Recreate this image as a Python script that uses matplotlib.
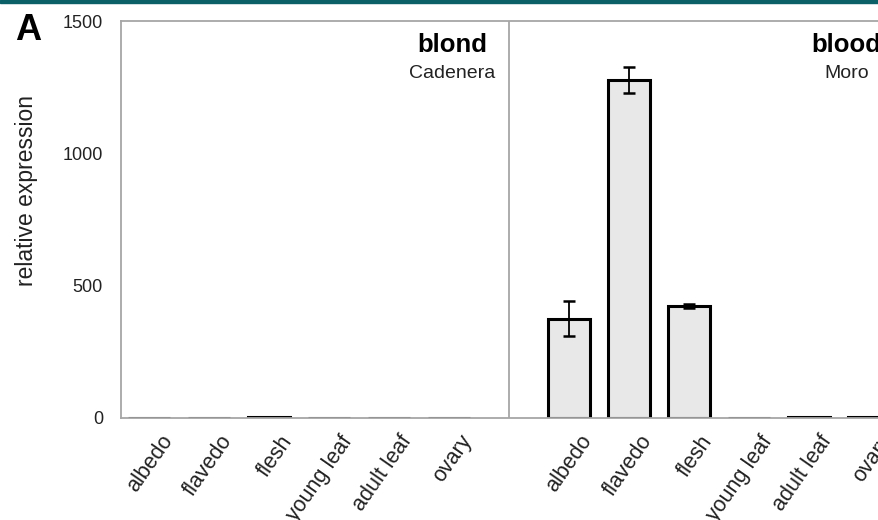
import matplotlib.pyplot as plt
import numpy as np
from matplotlib.patches import Rectangle
from matplotlib.transforms import ScaledTranslation

plt.rcParams['font.family'] = ['Liberation Sans', 'DejaVu Sans']

tissues = ["albedo", "flavedo", "flesh", "young leaf", "adult leaf", "ovary"]
blond_values = [0.5, 0.5, 2.0, 0.5, 1.5, 0.5]
blond_errors = [0, 0, 0, 0, 0, 0]
blood_values = [375, 1278, 423, 0.5, 2.0, 4.0]
blood_errors = [66, 49, 7, 0, 0, 0]
groups = [("blond", "Cadenera"), ("blood", "Moro")]
yticks = [0, 500, 1000, 1500]

GRAY = "#a6a6a6"
TEXT = "#222222"

fig = plt.figure(figsize=(8.79, 5.2), dpi=100)
# the axes run past the right edge, the source image is cropped
ax = fig.add_axes([121 / 879, 102 / 520, 776 / 879, 397 / 520])

x_blond = np.arange(len(tissues))
x_blood = x_blond + len(tissues) + 1

for xs, vals, errs in [(x_blond, blond_values, blond_errors),
                       (x_blood, blood_values, blood_errors)]:
    ax.bar(xs, vals, width=0.7, color="#e8e8e8", edgecolor="black",
           linewidth=2.2, zorder=2)
    for xv, v, e in zip(xs, vals, errs):
        if e > 0:
            ax.errorbar(xv, v, yerr=e, color="black", capsize=4,
                        elinewidth=1.3, capthick=1.8, zorder=3)

ax.axvline(len(tissues), color=GRAY, lw=1.3, zorder=1)

ax.set_xlim(-0.47, 12.47)
ax.set_ylim(0, 1500)
ax.set_yticks(yticks)
ax.set_yticklabels([str(t) for t in yticks], fontsize=13, color=TEXT)
ax.tick_params(axis="y", length=0, pad=13)

ax.set_xticks(np.concatenate([x_blond, x_blood]))
ax.set_xticklabels(tissues + tissues, rotation=55, ha="right", va="center",
                   rotation_mode="anchor", fontsize=15.5, color=TEXT)
ax.tick_params(axis="x", length=0, pad=14)
offset = ScaledTranslation(0.19, 0, fig.dpi_scale_trans)
for lab in ax.get_xticklabels():
    lab.set_transform(lab.get_transform() + offset)

for side in ["left", "top", "bottom", "right"]:
    ax.spines[side].set_color(GRAY)
    ax.spines[side].set_linewidth(1.3)

fig.text(27 / 879, 1 - 191 / 520, "relative expression", fontsize=16.5,
         rotation=90, ha="center", va="center", color=TEXT)

# group labels
title_x = [5.05, 11.63]
for (name, cultivar), tx in zip(groups, title_x):
    ax.text(tx, 1409, name, ha="center", va="center", fontsize=18.5,
            fontweight="bold")
    ax.text(tx, 1300, cultivar, ha="center", va="center", fontsize=14,
            color=TEXT)

fig.text(15 / 879, 1 - 30 / 520, "A", fontsize=26, fontweight="bold",
         ha="left", va="center")

# teal band at the top of the page
fig.patches.append(Rectangle((0, 1 - 3 / 520), 1, 3 / 520,
                             transform=fig.transFigure, color="#0b6068"))

fig.savefig("out.png", dpi=100)
